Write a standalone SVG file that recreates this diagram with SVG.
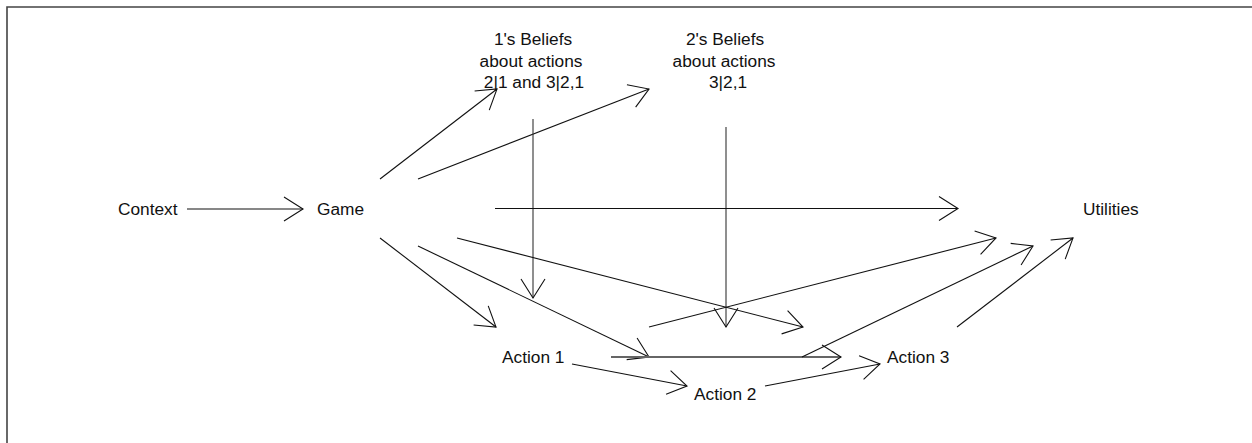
<svg xmlns="http://www.w3.org/2000/svg" width="1252" height="443" viewBox="0 0 1252 443">
<defs>
<style>
text{font-family:"Liberation Sans",Arial,sans-serif;font-size:17.3px;fill:#111}
.c line{stroke:#111;stroke-width:1.1;fill:none;marker-end:url(#ah)}
.c line.g{stroke:#666;stroke-width:2}
</style>
<marker id="ah" markerUnits="userSpaceOnUse" orient="auto" refX="0" refY="0" markerWidth="40" markerHeight="40" viewBox="-25 -20 40 40" overflow="visible">
<path d="M-19,-12 L0,0 L-19,12" fill="none" stroke="#111" stroke-width="1.1"/>
</marker>
</defs>
<rect width="1252" height="443" fill="#fff"/>
<path d="M7,443 V7 H1252" fill="none" stroke="#444" stroke-width="1.6"/>
<g id="context"><text x="118" y="215">Context</text></g>
<g id="game"><text x="317" y="215">Game</text></g>
<g id="beliefs1" text-anchor="middle"><text x="533" y="45">1's Beliefs</text><text x="531" y="67">about actions</text><text x="534" y="88"> 2|1 and 3|2,1</text></g>
<g id="beliefs2" text-anchor="middle"><text x="725" y="45">2's Beliefs</text><text x="724" y="67">about actions</text><text x="728" y="88">3|2,1</text></g>
<g id="utilities"><text x="1083" y="215">Utilities</text></g>
<g id="action1"><text x="502" y="363">Action 1</text></g>
<g id="action2"><text x="694" y="400">Action 2</text></g>
<g id="action3"><text x="887" y="363">Action 3</text></g>
<g id="connectors" class="c">
<line x1="187" y1="209" x2="303" y2="209"/>
<line x1="380" y1="179" x2="497" y2="89"/>
<line x1="418" y1="179" x2="649" y2="89"/>
<line x1="533" y1="119" x2="533" y2="298" style="stroke:#333"/>
<line x1="726" y1="127" x2="726" y2="327" style="stroke:#333"/>
<line x1="495" y1="208.5" x2="958" y2="208.5"/>
<line x1="380" y1="238" x2="496" y2="327"/>
<line x1="418" y1="246" x2="649" y2="357"/>
<line x1="457" y1="238" x2="803" y2="327"/>
<line class="g" x1="611" y1="357" x2="841" y2="357"/>
<line x1="649" y1="327" x2="996" y2="238"/>
<line x1="802" y1="357" x2="1033" y2="246"/>
<line x1="957" y1="327" x2="1073" y2="238"/>
<line x1="572" y1="364" x2="687" y2="386"/>
<line x1="765" y1="386" x2="880" y2="364"/>
</g>
</svg>
